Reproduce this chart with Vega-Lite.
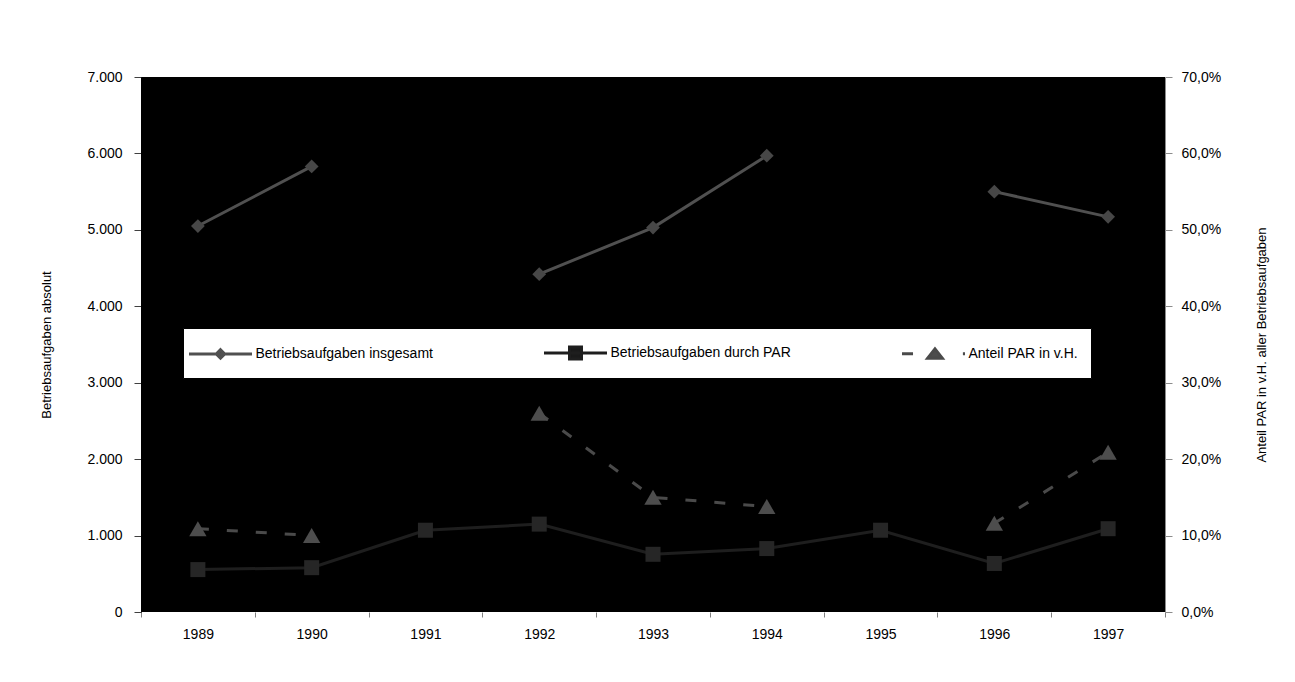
{
  "$schema": "https://vega.github.io/schema/vega-lite/v6.json",
  "width": 1024,
  "height": 535,
  "autosize": "none",
  "padding": {"left": 141, "top": 77, "right": 130, "bottom": 70},
  "background": "white",
  "config": {
    "font": "Liberation Sans",
    "view": {"fill": "#000000", "stroke": null},
    "locale": {
      "number": {"decimal": ",", "thousands": ".", "grouping": [3], "currency": ["", " €"]}
    }
  },
  "data": {
    "values": [
      {"year": "1989", "series": "Betriebsaufgaben insgesamt", "value": 5050},
      {"year": "1990", "series": "Betriebsaufgaben insgesamt", "value": 5830},
      {"year": "1991", "series": "Betriebsaufgaben insgesamt", "value": null},
      {"year": "1992", "series": "Betriebsaufgaben insgesamt", "value": 4420},
      {"year": "1993", "series": "Betriebsaufgaben insgesamt", "value": 5030},
      {"year": "1994", "series": "Betriebsaufgaben insgesamt", "value": 5970},
      {"year": "1995", "series": "Betriebsaufgaben insgesamt", "value": null},
      {"year": "1996", "series": "Betriebsaufgaben insgesamt", "value": 5500},
      {"year": "1997", "series": "Betriebsaufgaben insgesamt", "value": 5170},
      {"year": "1989", "series": "Betriebsaufgaben durch PAR", "value": 555},
      {"year": "1990", "series": "Betriebsaufgaben durch PAR", "value": 580},
      {"year": "1991", "series": "Betriebsaufgaben durch PAR", "value": 1070},
      {"year": "1992", "series": "Betriebsaufgaben durch PAR", "value": 1150},
      {"year": "1993", "series": "Betriebsaufgaben durch PAR", "value": 755},
      {"year": "1994", "series": "Betriebsaufgaben durch PAR", "value": 830},
      {"year": "1995", "series": "Betriebsaufgaben durch PAR", "value": 1070},
      {"year": "1996", "series": "Betriebsaufgaben durch PAR", "value": 635},
      {"year": "1997", "series": "Betriebsaufgaben durch PAR", "value": 1090},
      {"year": "1989", "series": "Anteil PAR in v.H.", "value": 0.109},
      {"year": "1990", "series": "Anteil PAR in v.H.", "value": 0.100},
      {"year": "1991", "series": "Anteil PAR in v.H.", "value": null},
      {"year": "1992", "series": "Anteil PAR in v.H.", "value": 0.260},
      {"year": "1993", "series": "Anteil PAR in v.H.", "value": 0.150},
      {"year": "1994", "series": "Anteil PAR in v.H.", "value": 0.138},
      {"year": "1995", "series": "Anteil PAR in v.H.", "value": null},
      {"year": "1996", "series": "Anteil PAR in v.H.", "value": 0.116},
      {"year": "1997", "series": "Anteil PAR in v.H.", "value": 0.209}
    ]
  },
  "encoding": {
    "x": {
      "field": "year",
      "type": "ordinal",
      "bandPosition": 0.5,
      "scale": {"type": "band", "paddingInner": 0, "paddingOuter": 0},
      "axis": {
        "title": null,
        "tickBand": "extent",
        "domain": false,
        "grid": false,
        "tickColor": "#808080",
        "tickSize": 5,
        "labelAngle": 0,
        "labelFontSize": 14,
        "labelColor": "#000000",
        "labelPadding": 10
      }
    }
  },
  "layer": [
    {
      "transform": [{"filter": "datum.series !== 'Anteil PAR in v.H.'"}],
      "encoding": {
        "y": {
          "field": "value",
          "type": "quantitative",
          "scale": {"domain": [0, 7000], "nice": false},
          "axis": {
            "orient": "left",
            "values": [0, 1000, 2000, 3000, 4000, 5000, 6000, 7000],
            "format": ",.0f",
            "grid": false,
            "domainColor": "#000000",
            "tickColor": "#404040",
            "tickSize": 7,
            "labelFontSize": 14,
            "labelColor": "#000000",
            "labelPadding": 12,
            "title": "Betriebsaufgaben absolut",
            "titleFontSize": 13,
            "titleFontWeight": "normal",
            "titleColor": "#000000",
            "titleX": -95,
            "titleAngle": 270,
            "titleBaseline": "middle"
          }
        }
      },
      "layer": [
        {
          "mark": {"type": "line", "strokeWidth": 3, "invalid": "break-paths-filter-domains"},
          "encoding": {
            "color": {
              "field": "series",
              "type": "nominal",
              "scale": {
                "domain": ["Betriebsaufgaben insgesamt", "Betriebsaufgaben durch PAR", "Anteil PAR in v.H."],
                "range": ["#505050", "#1e1e1e", "#4a4a4a"]
              },
              "legend": {
                "title": null,
                "orient": "none",
                "legendX": 42,
                "legendY": 251,
                "direction": "horizontal",
                "fillColor": "#ffffff",
                "strokeColor": "#000000",
                "padding": 13,
                "columnPadding": 105,
                "symbolSize": 441,
                "symbolStrokeWidth": 3,
                "symbolOffset": -8.5,
                "labelOffset": 44,
                "labelFontSize": 14,
                "labelColor": "#000000",
                "labelLimit": 400,
                "encode": {
                  "symbols": {
                    "update": {
                      "shape": {"signal": "datum.value === 'Betriebsaufgaben insgesamt' ? 'M-1,0H5M2,-0.4L2.4,0L2,0.4L1.6,0Z' : datum.value === 'Betriebsaufgaben durch PAR' ? 'M-1,0H5M1.43,-0.57H2.57V0.57H1.43Z' : 'M-1,0H0.05M2.14,-0.45L2.84,0.45L1.44,0.45ZM4.8,0H5'"},
                      "fill": {"signal": "datum.value === 'Betriebsaufgaben insgesamt' ? '#454545' : datum.value === 'Betriebsaufgaben durch PAR' ? '#1a1a1a' : '#4d4d4d'"},
                      "stroke": {"signal": "datum.value === 'Betriebsaufgaben insgesamt' ? '#555555' : datum.value === 'Betriebsaufgaben durch PAR' ? '#1a1a1a' : '#4d4d4d'"},
                      "strokeDash": {"value": []},
                      "opacity": {"value": 1}
                    }
                  }
                }
              }
            }
          }
        },
        {
          "transform": [{"filter": "datum.series === 'Betriebsaufgaben insgesamt' && isValid(datum.value)"}],
          "mark": {"type": "point", "shape": "diamond", "filled": true, "opacity": 1, "size": 190},
          "encoding": {"color": {"value": "#474747"}}
        },
        {
          "transform": [{"filter": "datum.series === 'Betriebsaufgaben durch PAR' && isValid(datum.value)"}],
          "mark": {"type": "square", "filled": true, "opacity": 1, "size": 225},
          "encoding": {"color": {"value": "#262626"}}
        }
      ]
    },
    {
      "transform": [{"filter": "datum.series === 'Anteil PAR in v.H.'"}],
      "encoding": {
        "y": {
          "field": "value",
          "type": "quantitative",
          "scale": {"domain": [0, 0.7], "nice": false},
          "axis": {
            "orient": "right",
            "values": [0, 0.1, 0.2, 0.3, 0.4, 0.5, 0.6, 0.7],
            "format": ".1%",
            "grid": false,
            "domainColor": "#8c8c8c",
            "tickColor": "#8c8c8c",
            "tickSize": 7,
            "labelFontSize": 14,
            "labelColor": "#000000",
            "labelPadding": 9,
            "title": "Anteil PAR in v.H. aller Betriebsaufgaben",
            "titleFontSize": 13,
            "titleFontWeight": "normal",
            "titleColor": "#000000",
            "titleX": 96,
            "titleAngle": 270,
            "titleBaseline": "middle"
          }
        }
      },
      "layer": [
        {
          "mark": {"type": "line", "strokeWidth": 3, "strokeDash": [11, 18], "invalid": "break-paths-filter-domains"},
          "encoding": {"color": {"field": "series", "type": "nominal"}}
        },
        {
          "transform": [{"filter": "isValid(datum.value)"}],
          "mark": {"type": "point", "shape": "triangle-up", "filled": true, "opacity": 1, "size": 300},
          "encoding": {"color": {"value": "#4d4d4d"}}
        }
      ]
    }
  ],
  "resolve": {"scale": {"y": "independent"}}
}
